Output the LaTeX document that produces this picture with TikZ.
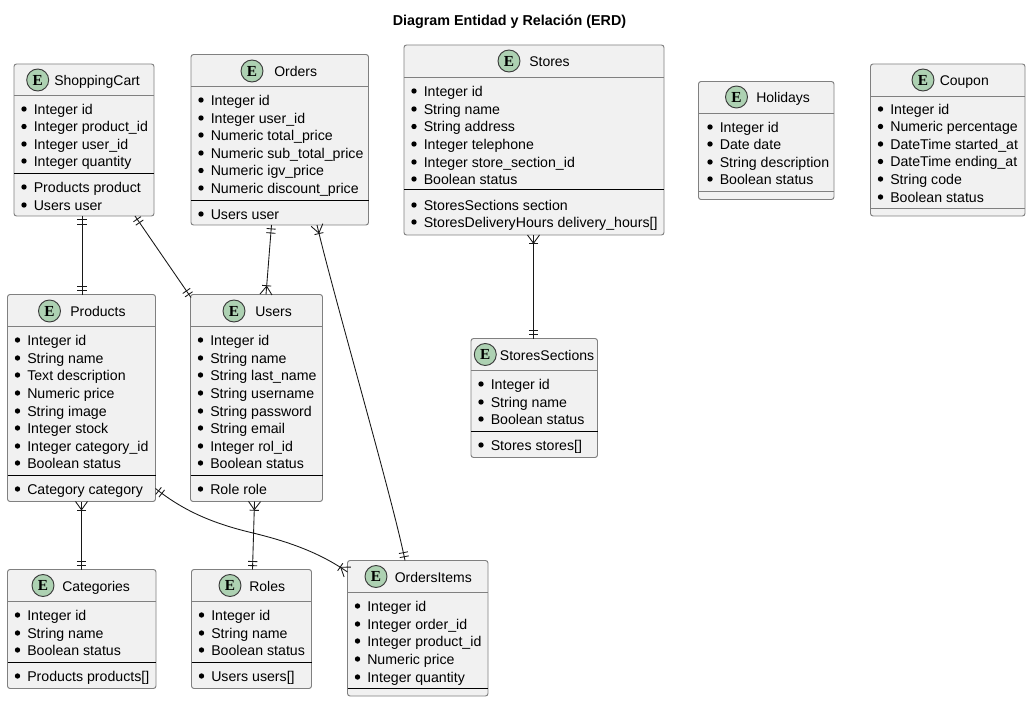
\documentclass[tikz,border=0pt]{standalone}
\usepackage{fontspec}
\setmainfont{Liberation Sans}
\newfontfamily\iconfont{Liberation Serif}
\usetikzlibrary{calc}
\definecolor{boxfill}{HTML}{F1F1F1}
\definecolor{boxline}{HTML}{808080}
\definecolor{iconfill}{HTML}{ADD1B2}
\definecolor{iconline}{HTML}{3A3A3A}
\definecolor{linkc}{HTML}{181818}
\tikzset{
  x=0.75pt,y=-0.75pt,
  entitybox/.style={draw=boxline,fill=boxfill,line width=0.7pt,rounded corners=1.9pt,inner sep=0pt,outer sep=0pt},
  sepgray/.style={draw=boxline,line width=0.7pt},
  sepblack/.style={draw=black,line width=0.7pt},
  icon/.style={circle,draw=iconline,fill=iconfill,line width=0.7pt,minimum size=16.5pt,inner sep=0pt,font=\iconfont\bfseries\fontsize{11.5}{11.5}\selectfont},
  titletext/.style={anchor=base west,inner sep=0pt,font=\fontsize{10.5}{12}\selectfont,text=black},
  rowtext/.style={anchor=base west,inner sep=0pt,font=\fontsize{10.62}{12}\selectfont,text=black},
  headline/.style={anchor=center,inner sep=0pt,font=\bfseries\fontsize{10.75}{12}\selectfont},
  link/.style={draw=linkc,line width=0.65pt},
  linkmark/.style={draw=linkc,line width=0.65pt}
}
\def\rowshift{0}
\def\divstyle{sepblack}
% id, x1,y1,x2,y2, title, icon cx, cy, title x, separator y, divider y, rows (y/text)
\newcommand{\entitybox}[9]{%
  \node[entitybox,minimum width={(#4-#2)*0.75pt},minimum height={(#5-#3)*0.75pt}] (#1) at ({(#2+#4)/2},{(#3+#5)/2}) {};
  \node[icon] (#1-icon) at (#7,#8) {E};
  \node[titletext] (#1-title) at (#9,#8+5.5) {#6};
  \entityrest{#1}{#2}{#4}%
}
\newcommand{\entityrest}[3]{\def\eid{#1}\def\exa{#2}\def\exb{#3}\entityseps}
\newcommand{\entityseps}[3]{%
  \draw[sepgray] (\exa,#1) -- (\exb,#1);
  \draw[\divstyle] (\exa,#2) -- (\exb,#2);
  \foreach \ry/\rt [count=\ri] in {#3} {
    \fill[black] (\exa+10+\rowshift,\ry) circle[radius=2.7];
    \node[rowtext] (\eid-row\ri) at (\exa+19.5+\rowshift,\ry+5.5) {\rt};
  }
}
% double bar: point on box #1, direction towards #2
\newcommand{\onemark}[2]{%
  \foreach \d in {2.9pt,6pt} {
    \draw[linkmark] ($($(#1)!\d!(#2)$)!3.4pt!90:(#2)$) -- ($($(#1)!\d!(#2)$)!3.4pt!-90:(#2)$);
  }
}
% crow's foot: point on box #1, direction towards #2
\newcommand{\manymark}[2]{%
  \draw[linkmark] ($($(#1)!6.6pt!(#2)$)!3.4pt!90:(#2)$) -- ($($(#1)!6.6pt!(#2)$)!3.4pt!-90:(#2)$);
  \draw[linkmark] ($(#1)!4.5pt!90:(#2)$) -- ($(#1)!6.2pt!(#2)$) -- ($(#1)!4.5pt!-90:(#2)$);
}
\begin{document}
\begin{tikzpicture}
\useasboundingbox[fill=white] (0,0) rectangle (1031,702);
\node[headline] (heading) at (509.5,21.5) {Diagram Entidad y Relación (ERD)};

\entitybox{cart}{14}{64}{154}{216}{ShoppingCart}{37.7}{80}{54}{95.5}{173.5}{109/Integer id,126.5/Integer product\_id,144/Integer user\_id,161/Integer quantity,187/Products product,205/Users user}
\entitybox{orders}{191}{54.5}{368.5}{225}{Orders}{252}{71}{274}{86.5}{200.5}{100/Integer id,118/Integer user\_id,135/Numeric total\_price,153/Numeric sub\_total\_price,170.5/Numeric igv\_price,188/Numeric discount\_price,214/Users user}
\entitybox{stores}{404}{45}{664}{235}{Stores}{509}{61}{529}{77}{189}{91/Integer id,109/String name,126.5/String address,144/Integer telephone,162/Integer store\_section\_id,179/Boolean status,205/StoresSections section,222/StoresDeliveryHours delivery\_hours[]}
\def\divstyle{sepgray}
\def\rowshift{1.5}
\entitybox{holidays}{698.5}{81.5}{834}{199.5}{Holidays}{736.5}{97}{756}{113.5}{191.5}{127/Integer id,144/Date date,162/String description,179/Boolean status}
\def\rowshift{0}
\entitybox{coupon}{870.5}{64}{1025}{216}{Coupon}{923}{80}{939.5}{96}{208}{109/Integer id,126.5/Numeric percentage,144/DateTime started\_at,161.5/DateTime ending\_at,179/String code,197/Boolean status}
\def\divstyle{sepblack}
\entitybox{products}{7.5}{294.5}{155.5}{501.5}{Products}{49.5}{311}{70}{326}{475.5}{340/Integer id,358/String name,375/Text description,393/Numeric price,411/String image,428/Integer stock,446/Integer category\_id,463/Boolean status,489/Category category}
\entitybox{users}{190.5}{294.5}{322.5}{501.5}{Users}{234}{311}{255}{326}{475.5}{340/Integer id,358/String name,375/String last\_name,393/String username,411/String password,428/String email,446/Integer rol\_id,463/Boolean status,489/Role role}
\entitybox{sections}{471}{338.5}{597.5}{457.5}{StoresSections}{485.3}{354.5}{499.7}{370.5}{431.5}{384/Integer id,402/String name,419/Boolean status,445/Stores stores[]}
\entitybox{categories}{7.5}{569.5}{156}{688.5}{Categories}{43}{585.5}{62}{601.5}{662.5}{615/Integer id,633/String name,650/Boolean status,676/Products products[]}
\entitybox{roles}{191.5}{569.5}{311.5}{688.5}{Roles}{230}{585.5}{249}{601.5}{662.5}{615/Integer id,633/String name,650/Boolean status,676/Users users[]}
\entitybox{items}{347.5}{560.5}{488}{696}{OrdersItems}{376}{576.5}{394.5}{592.5}{688.5}{606/Integer id,624/Integer order\_id,641/Integer product\_id,659/Numeric price,677/Integer quantity}

% end points on the entity boxes
\coordinate (a1) at ($(cart.south west)+(68,0)$);
\coordinate (b1) at ($(products.north west)+(74.5,0)$);
\coordinate (a2) at ($(cart.south west)+(121,0)$);
\coordinate (b2) at ($(users.north west)+(0.5,3)$);
\coordinate (a3) at ($(orders.south west)+(80.5,0)$);
\coordinate (b3) at ($(users.north west)+(75.5,0)$);
\coordinate (a4) at ($(orders.south west)+(126,0)$);
\coordinate (b4) at ($(items.north west)+(57.5,0)$);
\coordinate (a5) at ($(products.south west)+(74,0)$);
\coordinate (b5) at ($(categories.north west)+(74,0)$);
\coordinate (a6) at ($(users.south west)+(64,0)$);
\coordinate (b6) at ($(roles.north west)+(61,0)$);
\coordinate (a7) at ($(products.south east)+(0,-13)$);
\coordinate (b7) at ($(items.north west)+(0,11.5)$);
\coordinate (a8) at ($(stores.south west)+(129.5,0)$);
\coordinate (b8) at ($(sections.north west)+(62.5,0)$);
\coordinate (c4a) at (332,290);
\coordinate (c4b) at (393,500);
\coordinate (c7a) at (185,512);
\coordinate (c7b) at (320,553);

\draw[link] (a1) -- (b1);
\onemark{a1}{b1}\onemark{b1}{a1}
\draw[link] (a2) -- (b2);
\onemark{a2}{b2}\onemark{b2}{a2}
\draw[link] (a3) -- (b3);
\onemark{a3}{b3}\manymark{b3}{a3}
\draw[link] (a4) .. controls (c4a) and (c4b) .. (b4);
\manymark{a4}{c4a}\onemark{b4}{c4b}
\draw[link] (a5) -- (b5);
\manymark{a5}{b5}\onemark{b5}{a5}
\draw[link] (a6) -- (b6);
\manymark{a6}{b6}\onemark{b6}{a6}
\draw[link] (a7) .. controls (c7a) and (215,524) .. (253,533) .. controls (290,542) and (c7b) .. (b7);
\onemark{a7}{c7a}\manymark{b7}{c7b}
\draw[link] (a8) -- (b8);
\manymark{a8}{b8}\onemark{b8}{a8}
\end{tikzpicture}
\end{document}
